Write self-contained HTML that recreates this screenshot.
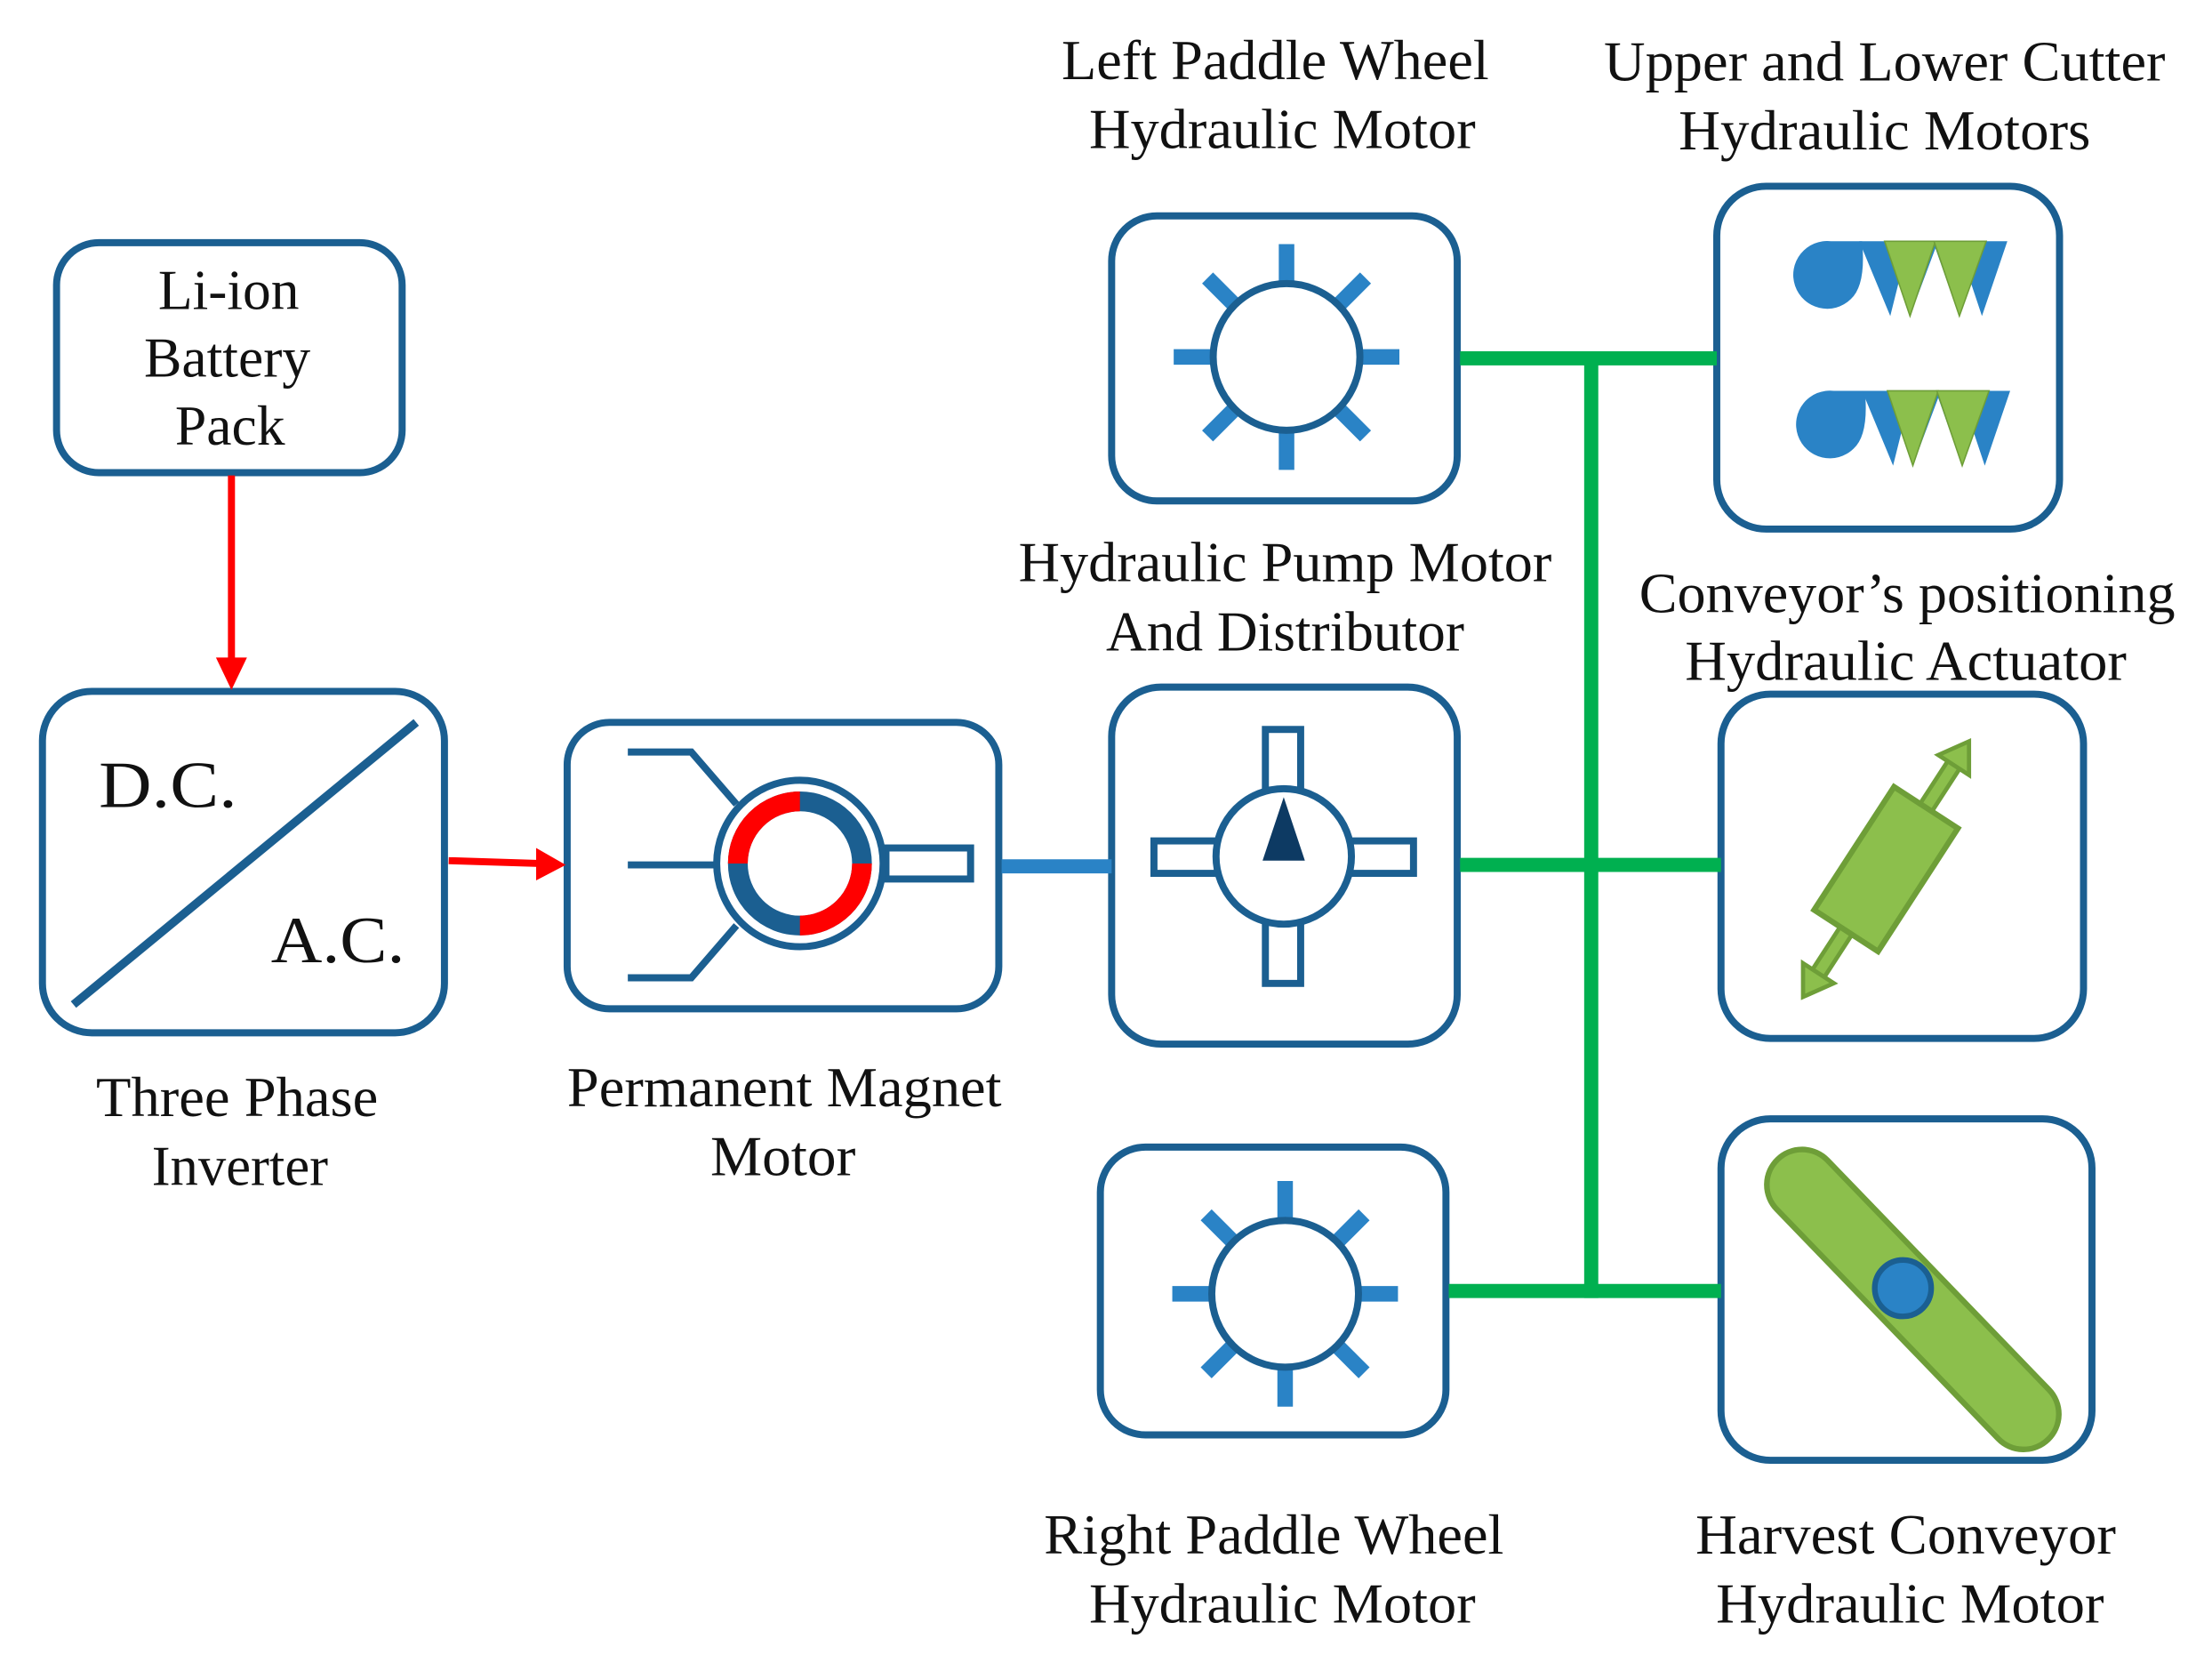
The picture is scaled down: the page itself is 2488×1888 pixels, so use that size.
<!DOCTYPE html>
<html><head><meta charset="utf-8"><style>
html,body{margin:0;padding:0;background:#fff;}
svg{display:block;}
text{font-family:"Liberation Serif",serif;fill:#111;}
</style></head><body>
<svg width="2488" height="1888" viewBox="0 0 1568 1190" xmlns="http://www.w3.org/2000/svg">
<defs>
<g id="gear">
  <g stroke="#2a83c6" stroke-width="11">
    <line x1="0" y1="-52" x2="0" y2="-80"/>
    <line x1="0" y1="52" x2="0" y2="80"/>
    <line x1="-52" y1="0" x2="-80" y2="0"/>
    <line x1="52" y1="0" x2="80" y2="0"/>
    <line x1="36" y1="-36" x2="56" y2="-56"/>
    <line x1="-36" y1="-36" x2="-56" y2="-56"/>
    <line x1="36" y1="36" x2="56" y2="56"/>
    <line x1="-36" y1="36" x2="-56" y2="56"/>
  </g>
  <circle r="52" fill="#fff" stroke="#1b5f91" stroke-width="5"/>
</g>
<g id="cutter">
  <path d="M1298,171 L1320,171 Q1323,202 1312,212 A24,24 0 1 1 1298,171 Z" fill="#2a83c6"/>
  <polygon points="1318,171 1423,171 1405,224 1397,200 1389,224 1372,176 1354,224 1346,200 1340,224" fill="#2a83c6"/>
  <polygon points="1336,171 1372,171 1354,224" fill="#8cbf4c" stroke="#6e9e38" stroke-width="1"/>
  <polygon points="1371,171 1408,171 1389,224" fill="#8cbf4c" stroke="#6e9e38" stroke-width="1"/>
</g>
</defs>

<g fill="none" stroke="#1b5f91" stroke-width="5">
  <rect x="40" y="172" width="245" height="163" rx="30"/>
  <rect x="30" y="490" width="285" height="242" rx="35"/>
  <rect x="402" y="512" width="306" height="203" rx="30"/>
  <rect x="788" y="153" width="245" height="202" rx="32"/>
  <rect x="788" y="487" width="245" height="253" rx="35"/>
  <rect x="780" y="813" width="245" height="204" rx="32"/>
  <rect x="1217" y="132" width="243" height="243" rx="35"/>
  <rect x="1220" y="492" width="257" height="244" rx="35"/>
  <rect x="1220" y="793" width="263" height="242" rx="35"/>
</g>

<line x1="164" y1="337" x2="164" y2="468" stroke="#f00" stroke-width="5"/>
<polygon points="153,466 175,466 164,489" fill="#f00"/>
<line x1="318" y1="610" x2="382" y2="612" stroke="#f00" stroke-width="5"/>
<polygon points="380,601 401,613 380,624" fill="#f00"/>

<line x1="52" y1="712" x2="295" y2="512" stroke="#1b5f91" stroke-width="6"/>
<text x="70" y="572" font-size="47" textLength="98" lengthAdjust="spacingAndGlyphs">D.C.</text>
<text x="192" y="682" font-size="47" textLength="95" lengthAdjust="spacingAndGlyphs">A.C.</text>

<g stroke="#1b5f91" stroke-width="5" fill="none">
  <polyline points="445,533 490,533 522,570"/>
  <line x1="445" y1="613" x2="512" y2="613"/>
  <polyline points="445,693 490,693 522,656"/>
  <rect x="628" y="601" width="60" height="22" fill="#fff"/>
  <circle cx="567" cy="612" r="59" fill="#fff"/>
</g>
<g fill="none" stroke-width="14">
  <circle cx="567" cy="612" r="44" stroke="#1b5f91"/>
  <path d="M567,568 A44,44 0 0 0 523,612" stroke="#f00"/>
  <path d="M611,612 A44,44 0 0 1 567,656" stroke="#f00"/>
</g>

<line x1="710" y1="614" x2="788" y2="614" stroke="#2a83c6" stroke-width="10"/>

<g stroke="#1b5f91" stroke-width="5" fill="#fff">
  <rect x="897" y="517" width="25" height="45"/>
  <rect x="897" y="653" width="25" height="44"/>
  <rect x="818" y="596" width="46" height="23"/>
  <rect x="956" y="596" width="46" height="23"/>
  <circle cx="910" cy="607" r="48"/>
</g>
<polygon points="910,565 895,610 925,610" fill="#0d3a63"/>

<use href="#gear" x="912" y="253"/>
<use href="#gear" x="911" y="917"/>

<use href="#cutter"/>
<use href="#cutter" y="106" x="2"/>

<g stroke="#00b050" stroke-width="10">
  <line x1="1035" y1="254" x2="1217" y2="254"/>
  <line x1="1128" y1="254" x2="1128" y2="920"/>
  <line x1="1035" y1="613" x2="1220" y2="613"/>
  <line x1="1027" y1="915" x2="1220" y2="915"/>
</g>

<g transform="translate(1337,616) rotate(-57)">
  <rect x="-92" y="-5" width="184" height="10" fill="#8cbf4c" stroke="#6e9e38" stroke-width="3"/>
  <polygon points="88,-13 108,0 88,13" fill="#8cbf4c" stroke="#6e9e38" stroke-width="3"/>
  <polygon points="-88,-13 -108,0 -88,13" fill="#8cbf4c" stroke="#6e9e38" stroke-width="3"/>
  <rect x="-52" y="-27" width="104" height="54" fill="#8cbf4c" stroke="#6e9e38" stroke-width="4"/>
</g>

<g transform="translate(1356,921) rotate(46)">
  <rect x="-138" y="-25" width="276" height="50" rx="25" ry="25" fill="#8cbf4c" stroke="#6e9e38" stroke-width="4"/>
</g>
<circle cx="1349" cy="913" r="20" fill="#2a83c6" stroke="#1b5f91" stroke-width="4"/>

<g font-size="40" text-anchor="middle">
  <text x="162" y="219" textLength="100" lengthAdjust="spacingAndGlyphs">Li-ion</text>
  <text x="161" y="267" textLength="118" lengthAdjust="spacingAndGlyphs">Battery</text>
  <text x="163" y="315" textLength="78" lengthAdjust="spacingAndGlyphs">Pack</text>
  <text x="168" y="791" textLength="200" lengthAdjust="spacingAndGlyphs">Three Phase</text>
  <text x="170" y="840" textLength="125" lengthAdjust="spacingAndGlyphs">Inverter</text>
  <text x="556" y="784" textLength="308" lengthAdjust="spacingAndGlyphs">Permanent Magnet</text>
  <text x="555" y="833" textLength="103" lengthAdjust="spacingAndGlyphs">Motor</text>
  <text x="904" y="56" textLength="303" lengthAdjust="spacingAndGlyphs">Left Paddle Wheel</text>
  <text x="909" y="105" textLength="274" lengthAdjust="spacingAndGlyphs">Hydraulic Motor</text>
  <text x="1336" y="57" textLength="398" lengthAdjust="spacingAndGlyphs">Upper and Lower Cutter</text>
  <text x="1336" y="106" textLength="292" lengthAdjust="spacingAndGlyphs">Hydraulic Motors</text>
  <text x="911" y="412" textLength="378" lengthAdjust="spacingAndGlyphs">Hydraulic Pump Motor</text>
  <text x="911" y="461" textLength="254" lengthAdjust="spacingAndGlyphs">And Distributor</text>
  <text x="1352" y="434" textLength="380" lengthAdjust="spacingAndGlyphs">Conveyor’s positioning</text>
  <text x="1351" y="482" textLength="313" lengthAdjust="spacingAndGlyphs">Hydraulic Actuator</text>
  <text x="903" y="1101" textLength="326" lengthAdjust="spacingAndGlyphs">Right Paddle Wheel</text>
  <text x="909" y="1150" textLength="274" lengthAdjust="spacingAndGlyphs">Hydraulic Motor</text>
  <text x="1351" y="1101" textLength="298" lengthAdjust="spacingAndGlyphs">Harvest Conveyor</text>
  <text x="1354" y="1150" textLength="275" lengthAdjust="spacingAndGlyphs">Hydraulic Motor</text>
</g>
</svg>
</body></html>
